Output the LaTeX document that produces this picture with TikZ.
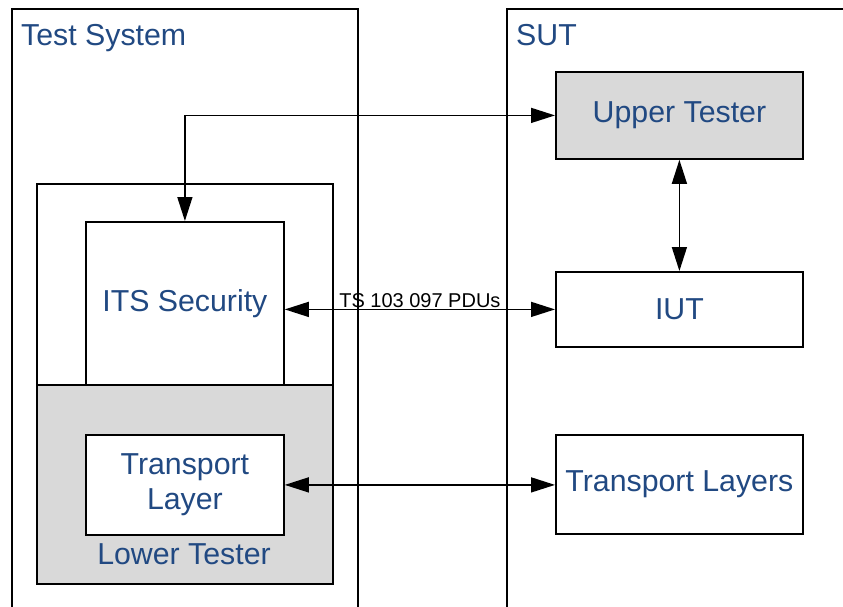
\documentclass[tikz,border=0pt]{standalone}
\usepackage{fontspec}
\setmainfont{Liberation Sans}
\usetikzlibrary{arrows.meta}
\definecolor{lbl}{RGB}{33,73,130}
\definecolor{grayfill}{RGB}{217,217,217}
\tikzset{
  frame/.style={draw=black, line width=1.8pt, inner sep=0pt},
  box/.style={draw=black, line width=1.8pt, fill=white, inner sep=0pt, text=lbl, font=\fontsize{30.3pt}{35pt}\selectfont, align=center},
  lbltext/.style={text=lbl, font=\fontsize{30.3pt}{35pt}\selectfont, inner sep=0pt},
  arr/.style={line width=1.5pt, {Triangle[length=24pt,width=15pt]}-{Triangle[length=24pt,width=15pt]}}
}
\begin{document}
\begin{tikzpicture}[x=1pt,y=-1pt]
\useasboundingbox (0,0) rectangle (843,606);
\clip (0,0) rectangle (843,606);
\fill[white] (0,0) rectangle (843,606);
% outer frames
\node[frame, minimum width=346pt, minimum height=700pt, anchor=north west] (testsys) at (11,8) {};
\node[frame, minimum width=360pt, minimum height=700pt, anchor=north west] (sut) at (506,8) {};
\node[lbltext, anchor=base west] (tstitle) at (21,45) {Test System};
\node[lbltext, anchor=base west] (suttitle) at (516,45) {SUT};
% ITS container
\node[frame, fill=white, minimum width=296pt, minimum height=400pt, anchor=north west] (itsouter) at (36,183) {};
\node[frame, fill=grayfill, minimum width=296pt, minimum height=199pt, anchor=north west] (lower) at (36,384) {};
\node[box, minimum width=198pt, minimum height=163pt, anchor=north west] (its) at (85,221) {ITS Security};
\node[box, minimum width=198pt, minimum height=100pt, anchor=north west] (tl) at (85,434) {Transport\\Layer};
\node[lbltext] (lt) at (184,554) {Lower Tester};
% SUT boxes
\node[box, fill=grayfill, minimum width=247pt, minimum height=87pt, anchor=north west] (ut) at (555,71) {Upper Tester};
\node[box, minimum width=247pt, minimum height=75pt, anchor=north west] (iut) at (555,271) {IUT};
\node[box, minimum width=247pt, minimum height=99pt, anchor=north west] (tls) at (555,434) {Transport Layers};
% connectors
\draw[arr] (ut.west) -| (its.north);
\draw[arr] (ut.south) -- (iut.north);
\draw[arr] (iut.west -| its.east) -- node[above=1pt, font=\fontsize{20pt}{22pt}\selectfont, text=black, inner sep=0pt] {TS 103 097 PDUs} (iut.west);
\draw[arr] (tl.east) -- (tl.east -| tls.west);
\end{tikzpicture}
\end{document}
